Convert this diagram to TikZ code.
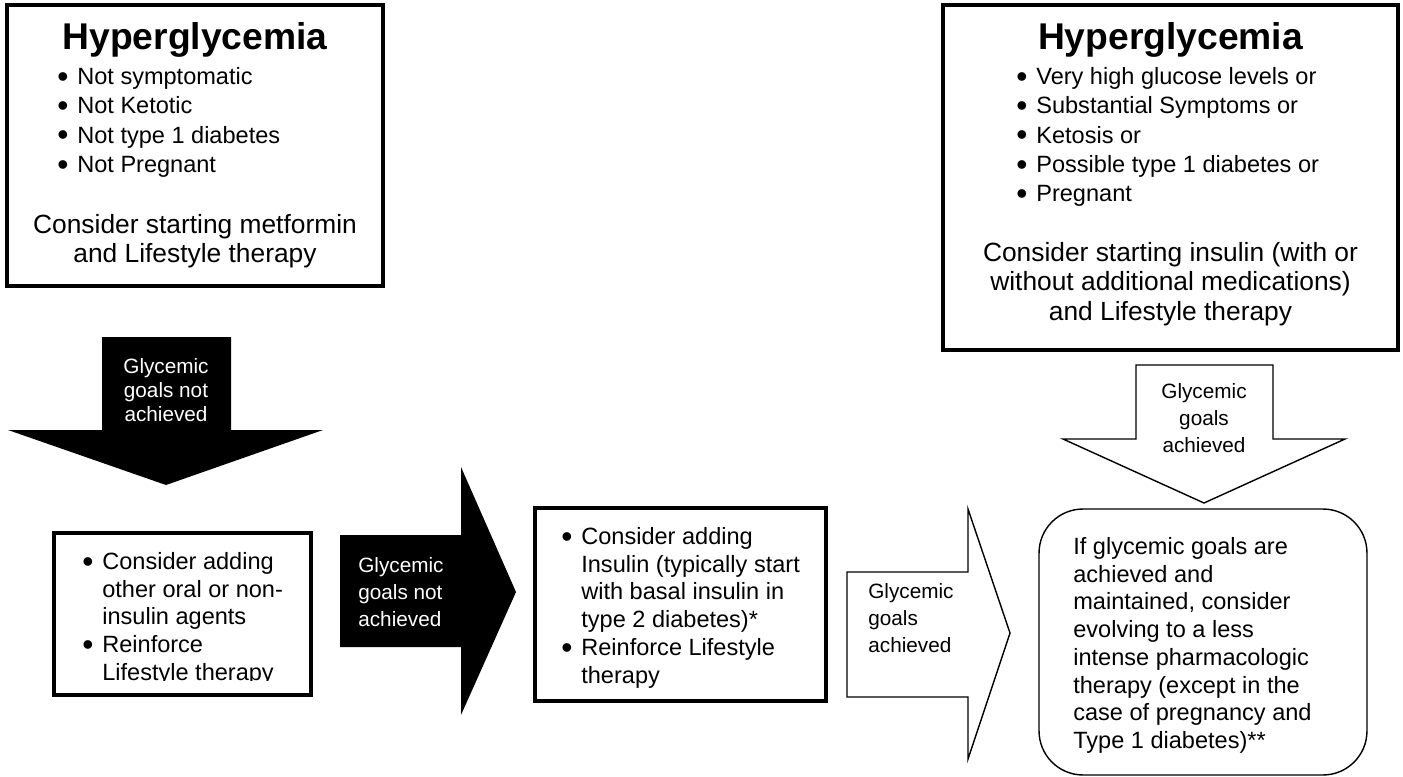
\documentclass[tikz,border=0pt]{standalone}
\usepackage{graphicx}
\usepackage{fontspec}
\setmainfont{Liberation Sans}

\newcommand{\itemline}[1]{\makebox[0.4cm][l]{\raisebox{-0.11em}{\scalebox{1.35}{\textbullet}}}#1}
\newcommand{\contline}[1]{\hspace*{0.4cm}#1}

\begin{document}
\begin{tikzpicture}[
  x=0.02cm, y=-0.02cm,
  box/.style={draw, line width=2pt, inner sep=0pt},
  endbox/.style={draw, line width=0.8pt, rounded corners=0.88cm, inner sep=0pt},
  title/.style={anchor=base, inner sep=0pt, font=\fontsize{21.2}{25}\selectfont\bfseries},
  list/.style={anchor=north west, align=left, inner sep=0pt, font=\fontsize{13.4}{15.8}\selectfont},
  toplist/.style={list, font=\fontsize{13.4}{16.7}\selectfont},
  advice/.style={anchor=north, align=center, inner sep=0pt, font=\fontsize{15}{16.8}\selectfont},
  goal/.style={inner sep=0pt, font=\fontsize{11.8}{15.4}\selectfont},
  blackarrow/.style={fill=black},
  whitearrow/.style={draw, line width=0.8pt, fill=white, line join=miter}
]
\useasboundingbox (0,0) rectangle (1403,777);

\node[box, minimum width=7.52cm, minimum height=5.62cm] (mildbox) at (195,145.5) {};
\node[title] (mildtitle) at (195,50) {Hyperglycemia};
\node[toplist] (mildlist) at (57,67) {\itemline{Not symptomatic}\\\itemline{Not Ketotic}\\\itemline{Not type 1 diabetes}\\\itemline{Not Pregnant}};
\node[advice] (mildstart) at (195,214) {Consider starting metformin\\and Lifestyle therapy};

\node[box, minimum width=9.1cm, minimum height=6.9cm] (severebox) at (1170.5,177.5) {};
\node[title] (severetitle) at (1170.5,50) {Hyperglycemia};
\node[toplist] (severelist) at (1016,67) {\itemline{Very high glucose levels or}\\\itemline{Substantial Symptoms or}\\\itemline{Ketosis or}\\\itemline{Possible type 1 diabetes or}\\\itemline{Pregnant}};
\node[advice] (severestart) at (1170.5,242) {Consider starting insulin (with or\\without additional medications)\\and Lifestyle therapy};

\node[box, minimum width=5.14cm, minimum height=3.24cm] (oralbox) at (182.5,614) {};
\begin{scope}
  \clip (54,533) rectangle (311,680.5);
  \node[list] (orallist) at (82,552) {\itemline{Consider adding}\\\contline{other oral or non-}\\\contline{insulin agents}\\\itemline{Reinforce}\\\contline{Lifestyle therapy}};
\end{scope}

\node[box, minimum width=5.82cm, minimum height=3.86cm] (insulinbox) at (680.5,604.5) {};
\node[list] (insulinlist) at (561,527) {\itemline{Consider adding}\\\contline{Insulin (typically start}\\\contline{with basal insulin in}\\\contline{type 2 diabetes)*}\\\itemline{Reinforce Lifestyle}\\\contline{therapy}};

\node[endbox, minimum width=6.56cm, minimum height=5.32cm] (evolvebox) at (1203,642) {};
\node[list] (evolvetext) at (1073,537) {If glycemic goals are\\achieved and\\maintained, consider\\evolving to a less\\intense pharmacologic\\therapy (except in the\\case of pregnancy and\\Type 1 diabetes)**};

\fill[blackarrow] (102,337) -- (231,337) -- (231,430) -- (323,430) -- (166,485) -- (8,430) -- (102,430) -- cycle;
\fill[blackarrow] (340,535) -- (461,535) -- (461,467) -- (516,592) -- (461,715) -- (461,647) -- (340,647) -- cycle;
\draw[whitearrow] (847,572) -- (968,572) -- (968,509) -- (1010,633) -- (968,759) -- (968,697) -- (847,697) -- cycle;
\draw[whitearrow] (1136,365) -- (1273,365) -- (1273,439) -- (1345,439) -- (1204,503) -- (1063,439) -- (1136,439) -- cycle;

\node[goal, anchor=north, align=center, text=white, font=\fontsize{11.8}{13.7}\selectfont] (notdown) at (166,358) {Glycemic\\goals not\\achieved};
\node[goal, anchor=north west, align=left, text=white] (notright) at (358,557) {Glycemic\\goals not\\achieved};
\node[goal, anchor=north west, align=left] (metright) at (868,583) {Glycemic\\goals\\achieved};
\node[goal, anchor=north, align=center] (metdown) at (1204,383) {Glycemic\\goals\\achieved};
\end{tikzpicture}
\end{document}
